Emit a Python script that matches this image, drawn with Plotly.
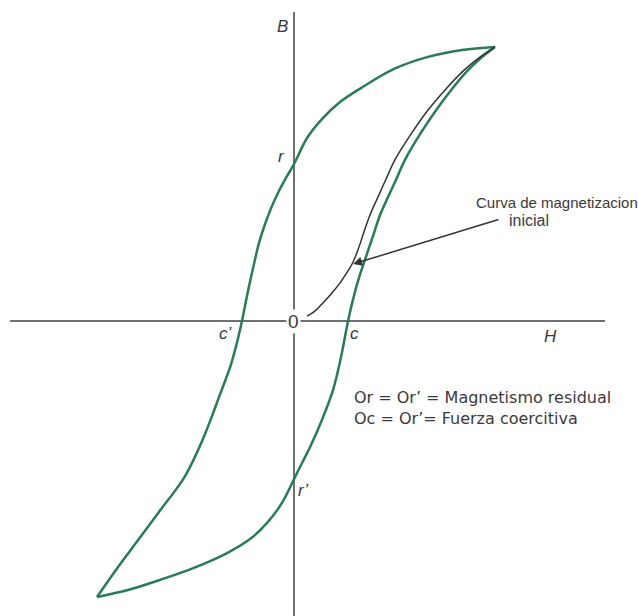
import plotly.graph_objects as go

# Hysteresis loop (normalised units: tip of the loop at H = 1, B = 1)
# Descending branch: from positive saturation down through r and c'
H_desc = [1.000, 0.836, 0.667, 0.498, 0.333, 0.229, 0.139, 0.065, 0.000, -0.040,
          -0.080, -0.114, -0.144, -0.174, -0.199, -0.229, -0.259, -0.284, -0.313, -0.343,
          -0.373, -0.408, -0.453, -0.498, -0.542, -0.592, -0.657, -0.731, -0.816, -0.900,
          -0.980]
B_desc = [1.000, 0.989, 0.964, 0.920, 0.850, 0.799, 0.737, 0.668, 0.573, 0.522,
          0.467, 0.412, 0.354, 0.285, 0.208, 0.109, 0.000, -0.080, -0.157, -0.219,
          -0.277, -0.347, -0.431, -0.504, -0.566, -0.620, -0.682, -0.755, -0.839, -0.923,
          -1.007]

# Ascending branch: from negative saturation up through r' and c
H_asc = [-0.980, -0.826, -0.667, -0.498, -0.333, -0.219, -0.134, -0.060, 0.000, 0.040,
         0.080, 0.139, 0.194, 0.234, 0.269, 0.294, 0.323, 0.358, 0.393, 0.428,
         0.463, 0.507, 0.552, 0.627, 0.711, 0.786, 0.861, 0.930, 1.000]
B_asc = [-1.007, -0.982, -0.945, -0.901, -0.847, -0.796, -0.737, -0.664, -0.577, -0.518,
         -0.460, -0.361, -0.252, -0.131, 0.000, 0.080, 0.157, 0.234, 0.310, 0.387,
         0.445, 0.515, 0.588, 0.682, 0.774, 0.847, 0.912, 0.960, 1.000]

# Initial magnetisation curve, starting near the origin
H_init = [0.065, 0.104, 0.144, 0.189, 0.229, 0.259, 0.289, 0.318, 0.348, 0.378,
          0.413, 0.458, 0.502, 0.582, 0.667, 0.756, 0.841, 0.920, 1.000]
B_init = [0.018, 0.036, 0.066, 0.102, 0.139, 0.172, 0.208, 0.259, 0.325, 0.387,
          0.445, 0.518, 0.588, 0.682, 0.770, 0.847, 0.912, 0.960, 1.000]

LOOP_GREEN = "#2a7b57"
INK = "#3a3a3a"
AXIS_GREY = "#707070"
FONT = "Liberation Sans, Arial, sans-serif"

fig = go.Figure()

loop_line = dict(color=LOOP_GREEN, width=2.5, shape="spline", smoothing=1.0)
fig.add_trace(go.Scatter(x=H_desc, y=B_desc, mode="lines", line=loop_line, hoverinfo="skip"))
fig.add_trace(go.Scatter(x=H_asc, y=B_asc, mode="lines", line=loop_line, hoverinfo="skip"))
fig.add_trace(go.Scatter(x=H_init, y=B_init, mode="lines",
                         line=dict(color="#333333", width=1.5, shape="spline", smoothing=1.0),
                         hoverinfo="skip"))

# H and B axes drawn as plain lines through the origin
fig.add_shape(type="line", x0=-1.413, x1=1.547, y0=0, y1=0,
              line=dict(color=AXIS_GREY, width=2), layer="below")
fig.add_shape(type="line", x0=0, x1=0, y0=-1.09, y1=1.128,
              line=dict(color=AXIS_GREY, width=2), layer="below")

def label(text, x, y, size=17, family=FONT, **kw):
    fig.add_annotation(x=x, y=y, text=text, showarrow=False,
                       font=dict(family=family, size=size, color=INK), **kw)

label("0", -0.005, 0.0, size=19, bgcolor="white", borderpad=1)
label("<i>B</i>", -0.055, 1.073)
label("<i>r</i>", -0.060, 0.599)
label("<i>r’</i>", 0.045, -0.617)
label("<i>c’</i>", -0.343, -0.047)
label("<i>c</i>", 0.299, -0.044)
label("<i>H</i>", 1.274, -0.058)

label("Curva de magnetizacion", 0.896, 0.431, size=15, xanchor="left")
label("inicial", 1.060, 0.365, size=16, xanchor="left")
label("Or = Or’ = Magnetismo residual<br>Oc = Or’= Fuerza coercitiva",
      0.289, -0.316, size=16, family="DejaVu Sans, sans-serif",
      xanchor="left", align="left")

# Arrow pointing at the initial magnetisation curve
fig.add_annotation(x=0.294, y=0.208, ax=1.025, ay=0.372, axref="x", ayref="y",
                   text="", showarrow=True, arrowhead=2, arrowsize=1.2,
                   arrowwidth=1.5, arrowcolor="#333333")

fig.update_layout(
    width=638, height=616,
    margin=dict(l=0, r=0, t=0, b=0),
    paper_bgcolor="#fcfcfc", plot_bgcolor="#ffffff",
    showlegend=False,
    xaxis=dict(range=[-1.4627, 1.7114], visible=False, fixedrange=True),
    yaxis=dict(range=[-1.0766, 1.1715], visible=False, fixedrange=True),
)

fig.write_html("out.html")
